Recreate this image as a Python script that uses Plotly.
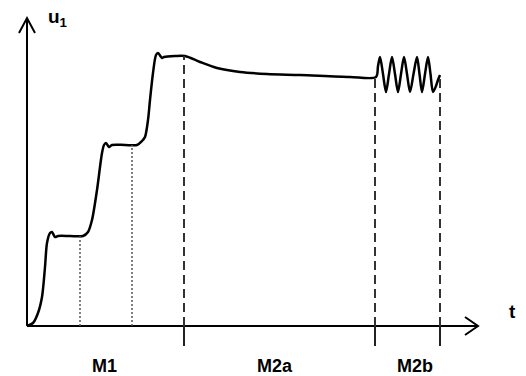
import numpy as np
import plotly.graph_objects as go

# curve u1(t)
t_vals = [0, 6, 11, 15, 18, 20, 23, 25, 28, 31, 43, 56, 61, 65, 70, 75, 77, 79, 82, 85,
          98, 110, 115, 118, 121, 123, 126, 129, 131, 135, 137, 148, 158, 173, 190, 213,
          240, 273, 323, 349, 351, 353, 356, 359, 362, 365, 368, 371, 374, 377, 380, 383,
          386.5, 390, 392.5, 395, 398, 401, 403.5, 406, 409, 411, 413]
u_vals = [0, 3, 13, 29, 59, 83, 93, 94, 89, 90, 90, 90, 94, 106, 136, 173, 181, 183, 179, 181,
          181, 181, 185, 189, 206, 226, 253, 271, 273, 268, 269, 270, 270, 264, 258, 254,
          252, 251, 249, 249, 260, 269, 252, 234, 252, 269, 252, 234, 252, 269, 252, 234,
          252, 269, 252, 234, 252, 269, 252, 234, 240, 246, 251]

# phase boundaries
dotted_t = [53, 105]
dashed_t = [157, 348, 413]
phase_labels = ["M1", "M2a", "M2b"]
phase_label_t = [77, 248, 388]

t_axis_end = 451
u_axis_end = 308
tick_len = 20

fig = go.Figure()

fig.add_trace(go.Scatter(x=t_vals, y=u_vals, mode="lines",
                         line=dict(color="black", width=2.5, shape="spline", smoothing=0.8),
                         hoverinfo="skip", showlegend=False))

shapes = []
# axes
shapes.append(dict(type="line", x0=0, y0=0, x1=t_axis_end, y1=0, line=dict(color="black", width=2)))
shapes.append(dict(type="line", x0=0, y0=0, x1=0, y1=u_axis_end, line=dict(color="black", width=2)))
# arrow heads (open chevrons)
shapes.append(dict(type="path",
                   path=f"M {-8} {u_axis_end-15} L 0 {u_axis_end} L 8 {u_axis_end-15}",
                   line=dict(color="black", width=2)))
shapes.append(dict(type="path",
                   path=f"M {t_axis_end-13} 9 L {t_axis_end} 0 L {t_axis_end-13} -9",
                   line=dict(color="black", width=2)))

for tv in dotted_t:
    top = float(np.interp(tv, t_vals, u_vals))
    shapes.append(dict(type="line", x0=tv, x1=tv, y0=0, y1=top,
                       line=dict(color="#555555", width=1.5, dash="2px,2px")))
for tv in dashed_t:
    top = float(np.interp(tv, t_vals, u_vals))
    shapes.append(dict(type="line", x0=tv, x1=tv, y0=0, y1=top,
                       line=dict(color="#333333", width=2, dash="9px,5px")))
    shapes.append(dict(type="line", x0=tv, x1=tv, y0=0, y1=-tick_len,
                       line=dict(color="#222222", width=2)))

annotations = []
annotations.append(dict(x=31, y=308, text="<b>u<sub>1</sub></b>", showarrow=False,
                        xanchor="center", yanchor="middle",
                        font=dict(size=19, color="black", family="Liberation Sans")))
annotations.append(dict(x=485, y=15, text="<b>t</b>", showarrow=False,
                        xanchor="center", yanchor="middle",
                        font=dict(size=19, color="black", family="Liberation Sans")))
for lab, tv in zip(phase_labels, phase_label_t):
    annotations.append(dict(x=tv, y=-40, text=f"<b>{lab}</b>", showarrow=False,
                            xanchor="center", yanchor="middle",
                            font=dict(size=18, color="black", family="Liberation Sans")))

fig.update_layout(
    width=526, height=376, autosize=False,
    margin=dict(l=0, r=0, t=0, b=0),
    paper_bgcolor="white", plot_bgcolor="white",
    xaxis=dict(range=[-27, 499], visible=False, fixedrange=True),
    yaxis=dict(range=[-50, 326], visible=False, fixedrange=True),
    shapes=shapes, annotations=annotations, showlegend=False,
)

fig.write_html("out.html", config={"displayModeBar": False},
               post_script="document.body.style.margin='0';document.body.style.overflow='hidden';")
